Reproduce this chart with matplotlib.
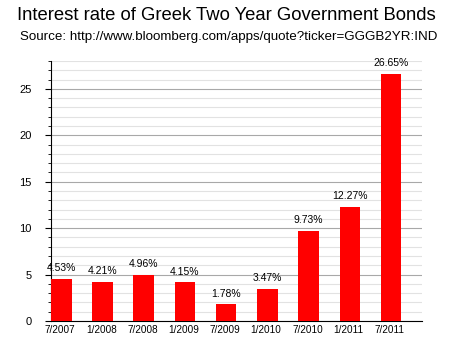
import matplotlib
matplotlib.use("Agg")
import matplotlib.pyplot as plt
from matplotlib.ticker import MultipleLocator

dates = ["7/2007", "1/2008", "7/2008", "1/2009", "7/2009", "1/2010", "7/2010", "1/2011", "7/2011"]
rates = [4.53, 4.21, 4.96, 4.15, 1.78, 3.47, 9.73, 12.27, 26.65]

plt.rcParams['font.family'] = ['Liberation Sans', 'DejaVu Sans']

fig = plt.figure(figsize=(4.52, 3.52), dpi=100)
ax = fig.add_axes([51/452, 1 - 321/352, (422-51)/452, (321-61)/352])

pos = list(range(len(rates)))
bars = ax.bar(pos, rates, width=0.5, align='edge', color='#ff0000', zorder=3)
for b, v in zip(bars, rates):
    ax.text(b.get_x() + b.get_width()/2, v + 0.6, f"{v:.2f}%", ha='center', va='bottom', fontsize=7.5)

ax.set_xlim(0, 9)
ax.set_ylim(0, 28)
ax.set_xticks([p + 0.22 for p in pos])
ax.set_xticklabels(dates, fontsize=7.2)
ax.tick_params(axis='x', length=0, pad=3)
ax.yaxis.set_major_locator(MultipleLocator(5))
ax.yaxis.set_minor_locator(MultipleLocator(1))
ax.tick_params(axis='y', which='major', length=4, labelsize=8, pad=10)
ax.tick_params(axis='y', which='minor', length=2)
ax.grid(axis='y', which='minor', color='#e2e2e2', lw=0.8, zorder=0)
ax.grid(axis='y', which='major', color='#a8a8a8', lw=0.8, zorder=1)
for s in ['top', 'right']:
    ax.spines[s].set_visible(False)

fig.text(0.5, 1 - 16/352, "Interest rate of Greek Two Year Government Bonds", ha='center', va='center', fontsize=13.3)
fig.text(20/452, 1 - 37/352, "Source: http://www.bloomberg.com/apps/quote?ticker=GGGB2YR:IND", ha='left', va='center', fontsize=9.6)

fig.savefig("out.png", dpi=100)
